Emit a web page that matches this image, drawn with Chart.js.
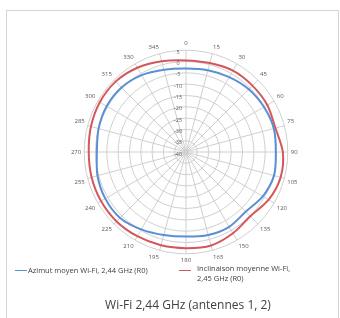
<!DOCTYPE html>
<html><head><meta charset="utf-8">
<script src="https://cdn.jsdelivr.net/npm/chart.js@4.4.1/dist/chart.umd.min.js"></script>
<style>
html,body{margin:0;padding:0;background:#fff;width:340px;height:318px;overflow:hidden;font-family:"Open Sans",sans-serif;}
#frame{position:absolute;left:6px;top:10px;width:331px;height:330px;border:1.5px solid #d4d4d4;}
#wrap{position:absolute;left:56px;top:40px;width:260px;height:224px;}
.lg{position:absolute;font-size:7.5px;color:#404040;line-height:10px;white-space:nowrap;}
.sw{position:absolute;height:1.5px;width:12px;}
#title{position:absolute;left:0;width:376px;top:296px;text-align:center;font-size:12px;color:#404040;}
</style></head>
<body>
<div id="frame"></div>
<div id="wrap"><canvas id="c" width="260" height="224"></canvas></div>
<div class="sw" style="left:15px;top:269.5px;background:#5b8fd4"></div>
<div class="lg" style="left:28px;top:265px;">Azimut moyen Wi-Fi, 2,44 GHz (R0)</div>
<div class="sw" style="left:179px;top:269.5px;background:#d4575b"></div>
<div class="lg" style="left:197px;top:263px;">Inclinaison moyenne Wi-Fi,<br>2,45 GHz (R0)</div>
<div id="title">Wi-Fi 2,44 GHz (antennes 1, 2)</div>
<script>
const angleLabels = ['0','15','30','45','60','75','90','105','120','135','150','165','180','195','210','225','240','255','270','285','300','315','330','345'];
const azimutValues = [-3.1,-2.6,-1.8,-0.8,-0.2,0.2,-0.3,0.3,-0.8,-2.7,-1.8,-2.0,-2.6,-2.0,-0.5,1.2,1.2,0.5,-0.6,0.0,0.5,0.3,-0.8,-2.4];
const inclinaisonValues = [0.5,0.7,1.5,1.5,1.5,0.9,2.8,3.3,2.2,0.2,1.5,2.8,2.5,2.7,3.0,3.4,3.4,3.2,3.0,3.5,4.0,4.0,3.0,1.5];
const radialTickLabels = ['5','0','-5','-10','-15','-20','-25','-30','-35','-40'];
const seriesNames = ['Azimut moyen Wi-Fi, 2,44 GHz (R0)','Inclinaison moyenne Wi-Fi, 2,45 GHz (R0)'];

const tickPlugin = {
  id:'tickLabels',
  afterDatasetsDraw(chart){
    const s = chart.scales.r, ctx = chart.ctx;
    ctx.save();
    ctx.font = '5.5px "Open Sans"';
    ctx.fillStyle = '#595959';
    ctx.textAlign = 'center';
    ctx.textBaseline = 'middle';
    s.ticks.forEach(t=>{
      const p = s.getPointPositionForValue(0, t.value);
      const lbl = radialTickLabels.find(l=>Number(l)===t.value) || String(t.value);
      ctx.fillText(lbl, s.xCenter-8, p.y+2);
    });
    ctx.restore();
  }
};

new Chart(document.getElementById('c'), {
  type:'radar',
  data:{
    labels: angleLabels,
    datasets:[
      {label:seriesNames[0], data:azimutValues, borderColor:'#5b8fd4', borderWidth:2, fill:false, pointRadius:0, tension:0.3},
      {label:seriesNames[1], data:inclinaisonValues, borderColor:'#d4575b', borderWidth:2, fill:false, pointRadius:0, tension:0.3}
    ]
  },
  options:{
    responsive:false, animation:false,
    plugins:{legend:{display:false}, tooltip:{enabled:false}},
    scales:{r:{
      min:-40, max:5,
      ticks:{stepSize:5, display:false},
      grid:{circular:true, color:'#cfcfcf', lineWidth:1},
      angleLines:{color:'#cfcfcf', lineWidth:1},
      pointLabels:{font:{size:6, family:'Open Sans'}, color:'#595959', padding:3}
    }}
  },
  plugins:[tickPlugin]
});
</script>
</body></html>
